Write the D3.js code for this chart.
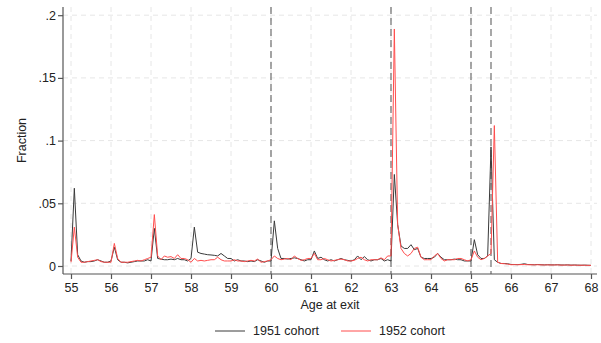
<!DOCTYPE html>
<html>
<head>
<meta charset="utf-8">
<script src="https://cdn.jsdelivr.net/npm/d3@7"></script>
<style>
	body { margin: 0; background: #fff; }
	svg { font-family: "Liberation Sans", Arial, sans-serif; }
</style>
</head>
<body>
<svg width="601" height="343"></svg>
<script>
(function() {

	// DATA: monthly fraction of exits, from age 55 to 68 (one value per month)
	var startAge = 55;
	var cohort1951 = [
		// 55
		0.004, 0.062, 0.009, 0.004, 0.003, 0.0035, 0.0035, 0.004, 0.005, 0.004, 0.003, 0.003,
		// 56
		0.004, 0.015, 0.005, 0.003, 0.003, 0.0025, 0.003, 0.0035, 0.004, 0.004, 0.004, 0.005,
		// 57
		0.004, 0.030, 0.006, 0.0055, 0.005, 0.005, 0.0055, 0.005, 0.006, 0.005, 0.005, 0.004,
		// 58
		0.006, 0.031, 0.011, 0.010, 0.0095, 0.009, 0.0088, 0.0085, 0.008, 0.010, 0.008, 0.006,
		// 59
		0.006, 0.004, 0.005, 0.004, 0.004, 0.0035, 0.004, 0.0035, 0.005, 0.004, 0.003, 0.004,
		// 60
		0.004, 0.036, 0.014, 0.006, 0.006, 0.0055, 0.006, 0.0065, 0.006, 0.005, 0.004, 0.005,
		// 61
		0.005, 0.012, 0.006, 0.007, 0.005, 0.004, 0.005, 0.004, 0.005, 0.006, 0.005, 0.0045,
		// 62
		0.004, 0.005, 0.008, 0.005, 0.0075, 0.005, 0.004, 0.005, 0.005, 0.006, 0.004, 0.005,
		// 63
		0.004, 0.073, 0.033, 0.016, 0.014, 0.014, 0.017, 0.013, 0.014, 0.007, 0.006, 0.006,
		// 64
		0.006, 0.007, 0.010, 0.007, 0.005, 0.005, 0.005, 0.0055, 0.005, 0.005, 0.004, 0.004,
		// 65
		0.004, 0.021, 0.009, 0.006, 0.006, 0.008, 0.095, 0.005, 0.003, 0.002, 0.002, 0.0018,
		// 66
		0.0012, 0.0012, 0.0011, 0.0013, 0.0018, 0.0012, 0.0011, 0.0010, 0.0012, 0.0010, 0.0009, 0.0010,
		// 67
		0.0009, 0.0009, 0.0010, 0.0008, 0.0008, 0.0009, 0.0007, 0.0008, 0.0007, 0.0006, 0.0007, 0.0006,
		// 68
		0.0005
	];
	var cohort1952 = [
		// 55
		0.003, 0.031, 0.007, 0.003, 0.003, 0.0035, 0.004, 0.0045, 0.005, 0.0035, 0.003, 0.003,
		// 56
		0.003, 0.018, 0.006, 0.003, 0.003, 0.003, 0.0035, 0.004, 0.0045, 0.004, 0.005, 0.006,
		// 57
		0.007, 0.041, 0.008, 0.005, 0.008, 0.007, 0.0075, 0.006, 0.009, 0.006, 0.006, 0.005,
		// 58
		0.003, 0.006, 0.004, 0.0045, 0.004, 0.0045, 0.005, 0.005, 0.007, 0.005, 0.004, 0.004,
		// 59
		0.004, 0.005, 0.004, 0.004, 0.0035, 0.004, 0.0045, 0.004, 0.0055, 0.003, 0.0035, 0.004,
		// 60
		0.005, 0.008, 0.006, 0.005, 0.0055, 0.006, 0.005, 0.008, 0.006, 0.0045, 0.005, 0.006,
		// 61
		0.006, 0.010, 0.005, 0.005, 0.006, 0.005, 0.004, 0.0045, 0.005, 0.0055, 0.005, 0.004,
		// 62
		0.004, 0.0045, 0.006, 0.007, 0.005, 0.004, 0.005, 0.005, 0.005, 0.0065, 0.005, 0.008,
		// 63
		0.008, 0.189, 0.033, 0.014, 0.010, 0.008, 0.010, 0.014, 0.015, 0.007, 0.005, 0.005,
		// 64
		0.005, 0.008, 0.010, 0.006, 0.004, 0.005, 0.005, 0.005, 0.006, 0.006, 0.005, 0.004,
		// 65
		0.005, 0.012, 0.007, 0.005, 0.006, 0.008, 0.010, 0.112, 0.003, 0.002, 0.0018, 0.0015,
		// 66
		0.0010, 0.0011, 0.0010, 0.0011, 0.0012, 0.0010, 0.0010, 0.0009, 0.0010, 0.0009, 0.0008, 0.0009,
		// 67
		0.0008, 0.0008, 0.0009, 0.0007, 0.0007, 0.0008, 0.0006, 0.0007, 0.0006, 0.0006, 0.0006, 0.0005,
		// 68
		0.0005
	];
	var xTicks = [55, 56, 57, 58, 59, 60, 61, 62, 63, 64, 65, 66, 67, 68];
	var yTicks = [0, 0.05, 0.1, 0.15, 0.2];
	var refLines = [60, 63, 65, 65.5];
	var seriesNames = ['1951 cohort', '1952 cohort'];
	var seriesColors = ['#3a3a3a', '#ff4d4d'];

	// LAYOUT
	var plot = { left: 63, right: 597, top: 7, bottom: 274 };
	var svg = d3.select('svg');

	var x = d3.scaleLinear()
		.domain([54.8, 68.15])
		.range([plot.left, plot.right]);

	var y = d3.scaleLinear()
		.domain([0, 0.2])
		.range([266, 15.2]);

	function toPoints(values) {
		return values.map(function(v, i) { return { age: startAge + i / 12, value: v }; });
	}
	var series = [toPoints(cohort1951), toPoints(cohort1952)];

	// GRID
	var grid = svg.append('g').attr('class', 'grid');

	grid.selectAll('.grid--y')
		.data(yTicks)
		.enter().append('line')
		.attr('x1', plot.left).attr('x2', plot.right)
		.attr('y1', function(d) { return y(d); })
		.attr('y2', function(d) { return y(d); })
		.attr('stroke', '#e6e6e6')
		.attr('stroke-dasharray', '5,4');

	grid.selectAll('.grid--x')
		.data(xTicks)
		.enter().append('line')
		.attr('x1', function(d) { return x(d); })
		.attr('x2', function(d) { return x(d); })
		.attr('y1', plot.top).attr('y2', plot.bottom)
		.attr('stroke', '#e6e6e6')
		.attr('stroke-dasharray', '5,4');

	// REFERENCE LINES
	svg.selectAll('.ref')
		.data(refLines)
		.enter().append('line')
		.attr('class', 'ref')
		.attr('x1', function(d) { return x(d); })
		.attr('x2', function(d) { return x(d); })
		.attr('y1', plot.top).attr('y2', plot.bottom)
		.attr('stroke', '#6e6e6e')
		.attr('stroke-width', 1.2)
		.attr('stroke-dasharray', '7,4');

	// LINES
	var line = d3.line()
		.x(function(d) { return x(d.age); })
		.y(function(d) { return y(d.value); });

	svg.selectAll('.series')
		.data(series)
		.enter().append('path')
		.attr('class', 'series')
		.attr('fill', 'none')
		.attr('stroke', function(d, i) { return seriesColors[i]; })
		.attr('stroke-width', 1)
		.attr('stroke-linejoin', 'round')
		.attr('d', line);

	// AXES
	var fmt = function(d) { return d === 0 ? '0' : String(d).replace(/^0/, ''); };

	var yAxis = svg.append('g')
		.attr('transform', 'translate(' + plot.left + ',0)')
		.call(d3.axisLeft(y).tickValues(yTicks).tickFormat(fmt).tickSize(5).tickSizeOuter(0));
	yAxis.select('.domain').attr('d', 'M0,' + plot.top + 'V' + plot.bottom);

	var xAxis = svg.append('g')
		.attr('transform', 'translate(0,' + plot.bottom + ')')
		.call(d3.axisBottom(x).tickValues(xTicks).tickFormat(d3.format('d')).tickSize(5).tickSizeOuter(0));
	xAxis.select('.domain').attr('d', 'M' + plot.left + ',0H' + plot.right);

	svg.selectAll('.domain, .tick line')
		.attr('stroke', '#555')
		.attr('stroke-width', 1.2);
	svg.selectAll('.tick text')
		.attr('fill', '#222')
		.style('font-size', '12.5px');
	yAxis.selectAll('.tick text').attr('x', -7);
	xAxis.selectAll('.tick text').attr('y', 9);

	// LABELS
	svg.append('text')
		.attr('x', (plot.left + plot.right) / 2)
		.attr('y', 309)
		.attr('text-anchor', 'middle')
		.attr('fill', '#222')
		.style('font-size', '12.5px')
		.text('Age at exit');

	svg.append('text')
		.attr('transform', 'translate(26,' + ((plot.top + plot.bottom) / 2) + ')rotate(-90)')
		.attr('text-anchor', 'middle')
		.attr('fill', '#222')
		.style('font-size', '12.5px')
		.text('Fraction');

	// LEGEND
	var legend = svg.append('g').attr('transform', 'translate(0,331)');
	var legendX = [215, 341];
	var item = legend.selectAll('.legend-item')
		.data(seriesNames)
		.enter().append('g')
		.attr('transform', function(d, i) { return 'translate(' + legendX[i] + ',0)'; });

	item.append('line')
		.attr('x1', 0).attr('x2', 30)
		.attr('stroke', function(d, i) { return seriesColors[i]; })
		.attr('stroke-width', 1);

	item.append('text')
		.attr('x', 38)
		.attr('dy', '0.35em')
		.attr('fill', '#222')
		.style('font-size', '12.5px')
		.text(function(d) { return d; });

})()
</script>
</body>
</html>
